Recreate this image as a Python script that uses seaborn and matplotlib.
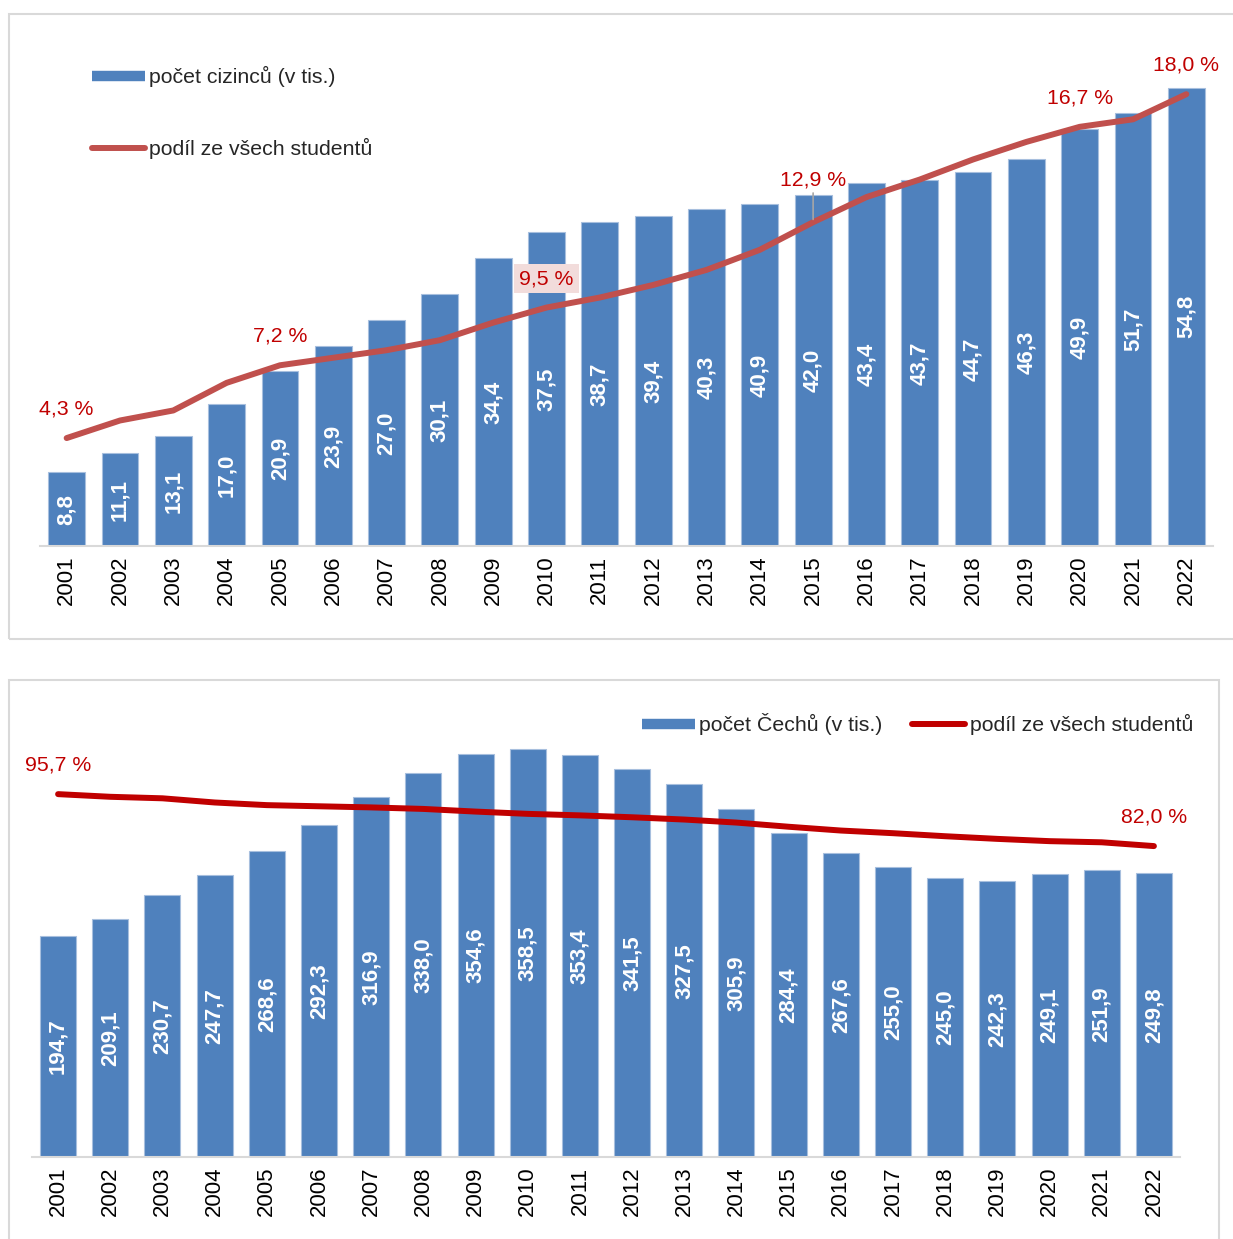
import numpy as np
import matplotlib
matplotlib.use("Agg")
import matplotlib.pyplot as plt
from matplotlib.lines import Line2D
from matplotlib.patches import Rectangle
import seaborn as sns

# data
years = [str(y) for y in range(2001, 2023)]
foreign = [8.8, 11.1, 13.1, 17.0, 20.9, 23.9, 27.0, 30.1, 34.4, 37.5, 38.7,
           39.4, 40.3, 40.9, 42.0, 43.4, 43.7, 44.7, 46.3, 49.9, 51.7, 54.8]
foreign_share = [4.3, 5.0, 5.4, 6.5, 7.2, 7.5, 7.8, 8.2, 8.9, 9.5, 9.9,
                 10.4, 11.0, 11.8, 12.9, 13.9, 14.6, 15.4, 16.1, 16.7, 17.0, 18.0]
czech = [194.7, 209.1, 230.7, 247.7, 268.6, 292.3, 316.9, 338.0, 354.6, 358.5, 353.4,
         341.5, 327.5, 305.9, 284.4, 267.6, 255.0, 245.0, 242.3, 249.1, 251.9, 249.8]
czech_share = [95.7, 95.0, 94.6, 93.5, 92.8, 92.5, 92.2, 91.8, 91.1, 90.5, 90.1,
               89.6, 89.0, 88.2, 87.1, 86.1, 85.4, 84.6, 83.9, 83.3, 83.0, 82.0]

# which share points get a label
foreign_marked = [0, 4, 9, 14, 19, 21]
czech_marked = [0, 21]

BLUE = '#4F81BD'
RED_LINE_TOP = '#C0504D'
RED_LINE_BOT = '#C00000'
RED_TEXT = '#C00000'
GREY = '#D9D9D9'

sns.set_theme(style="white")
plt.rcParams['font.family'] = ['Liberation Sans', 'DejaVu Sans']

W, H = 1233, 1239
fig = plt.figure(figsize=(W / 100, H / 100), dpi=100)


def fx(px):
    return px / W


def fy(py):
    return 1 - py / H


def fmt(v):
    return f"{v:.1f}".replace('.', ',')


def draw_panel(rect, values, shares, ymax, smax, line_color, marked, offsets, boxed, leader):
    ax = fig.add_axes(rect)
    sns.barplot(x=years, y=values, ax=ax, color=BLUE, saturation=1, width=0.69,
                edgecolor='#A7BFDE', linewidth=0.8)
    ax.bar_label(ax.containers[0], labels=[fmt(v) for v in values], label_type='center',
                 rotation=90, color='white', fontweight='bold', fontsize=16)
    ax.set_ylim(0, ymax)
    ax.set_xlabel('')
    ax.set_ylabel('')
    ax.set_yticks([])
    ax.tick_params(axis='x', labelrotation=90, labelsize=16, length=0, pad=7, colors='black')
    for s in ['top', 'left', 'right']:
        ax.spines[s].set_visible(False)
    ax.spines['bottom'].set_color(GREY)
    ax.spines['bottom'].set_linewidth(1.5)

    ax2 = ax.twinx()
    sns.lineplot(x=np.arange(len(years)), y=shares, ax=ax2, color=line_color,
                 linewidth=4.3, solid_capstyle='round')
    ax2.set_ylim(0, smax)
    ax2.set_yticks([])
    ax2.set_ylabel('')
    for s in ax2.spines.values():
        s.set_visible(False)
    ax.set_xlim(-0.5, len(years) - 0.5)

    for i in marked:
        kw = {}
        if i in boxed:
            kw['bbox'] = dict(boxstyle='square,pad=0.25', facecolor='#F2DCDB', edgecolor='none')
        if i in leader:
            kw['arrowprops'] = dict(arrowstyle='-', color='#A6A6A6', lw=1.2, shrinkA=0, shrinkB=2)
        ax2.annotate(fmt(shares[i]) + ' %', xy=(i, shares[i]), xytext=(0, offsets.get(i, 29)),
                     textcoords='offset pixels', ha='center', va='center',
                     color=RED_TEXT, fontsize=15.3, **kw)
    return ax, ax2


# top panel: foreigners
draw_panel([fx(40), fy(546), fx(1213) - fx(40), (546 - 44) / H],
           foreign, foreign_share, 60, 20, RED_LINE_TOP,
           foreign_marked, {14: 42}, [9], [14])

# bottom panel: Czechs
draw_panel([fx(32), fy(1157), fx(1180) - fx(32), (1157 - 702) / H],
           czech, czech_share, 400, 120, RED_LINE_BOT,
           czech_marked, {}, [], [])

# legends
top_handles = [Line2D([], [], color=BLUE, lw=7.5, solid_capstyle='butt'),
               Line2D([], [], color=RED_LINE_TOP, lw=4.3, solid_capstyle='round')]
fig.legend(top_handles, ['počet cizinců (v tis.)', 'podíl ze všech studentů'],
           loc='upper left', bbox_to_anchor=(fx(92), fy(66)), frameon=False,
           fontsize=15.3, handlelength=2.5, handletextpad=0.2, labelspacing=2.4,
           borderpad=0, borderaxespad=0)

bot_handles = [Line2D([], [], color=BLUE, lw=7.5, solid_capstyle='butt'),
               Line2D([], [], color=RED_LINE_BOT, lw=4.3, solid_capstyle='round')]
fig.legend(bot_handles, ['počet Čechů (v tis.)', 'podíl ze všech studentů'],
           loc='center right', bbox_to_anchor=(fx(1193), fy(724)), frameon=False, ncol=2,
           fontsize=15.3, handlelength=2.5, handletextpad=0.2, columnspacing=1.4,
           borderpad=0, borderaxespad=0)

# panel frames
fig.add_artist(Rectangle((fx(9), fy(639)), fx(1240) - fx(9), (639 - 14) / H,
                         transform=fig.transFigure, fill=False, edgecolor=GREY, lw=1.5))
fig.add_artist(Rectangle((fx(9), fy(1250)), fx(1219) - fx(9), (1250 - 680) / H,
                         transform=fig.transFigure, fill=False, edgecolor=GREY, lw=1.5))

fig.savefig('out.png', dpi=100)
